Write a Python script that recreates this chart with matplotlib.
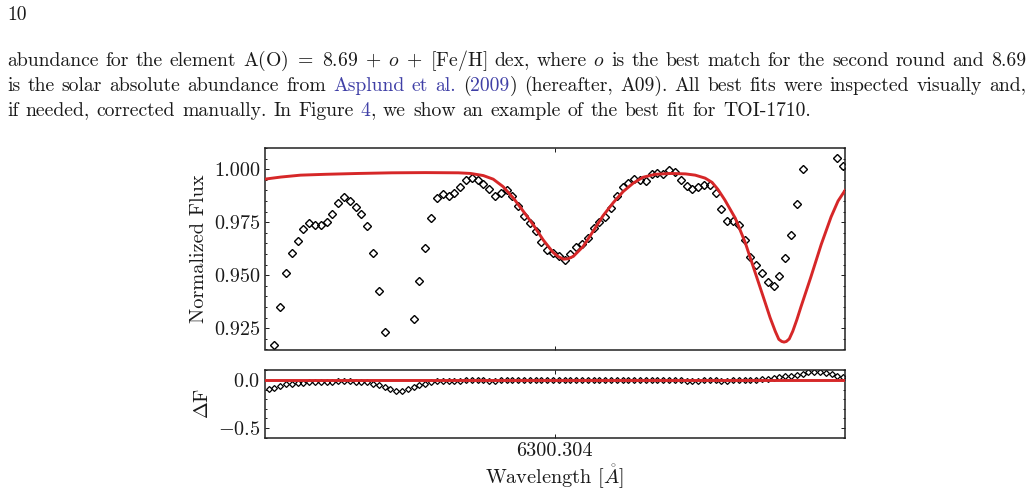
import matplotlib.pyplot as plt
from matplotlib.ticker import MultipleLocator

# page and figure size in pixels (saved at dpi=100)
W, H = 1033, 495

plt.rcParams["font.family"] = "serif"
plt.rcParams["font.serif"] = ["cmr10"]
plt.rcParams["mathtext.fontset"] = "cm"
plt.rcParams["axes.formatter.use_mathtext"] = True

INK = "#1a1a1a"
LINK = "#3f3fa6"
RED = "#d62728"

# observed spectrum (wavelength in Angstrom, normalized flux, residual data - model)
wave = [
    6299.811, 6299.821, 6299.831, 6299.841, 6299.851, 6299.861, 6299.871, 6299.881, 6299.891, 6299.901,
    6299.911, 6299.921, 6299.931, 6299.941, 6299.951, 6299.961, 6299.971, 6299.981, 6299.991, 6300.001,
    6300.011, 6300.021, 6300.031, 6300.041, 6300.051, 6300.061, 6300.071, 6300.081, 6300.091, 6300.101,
    6300.111, 6300.121, 6300.131, 6300.141, 6300.151, 6300.161, 6300.171, 6300.181, 6300.191, 6300.201,
    6300.211, 6300.221, 6300.231, 6300.241, 6300.251, 6300.261, 6300.271, 6300.281, 6300.291, 6300.301,
    6300.311, 6300.321, 6300.331, 6300.341, 6300.351, 6300.361, 6300.371, 6300.381, 6300.391, 6300.401,
    6300.411, 6300.421, 6300.431, 6300.441, 6300.451, 6300.461, 6300.471, 6300.481, 6300.491, 6300.501,
    6300.511, 6300.521, 6300.531, 6300.541, 6300.551, 6300.561, 6300.571, 6300.581, 6300.591, 6300.601,
    6300.611, 6300.621, 6300.631, 6300.641, 6300.651, 6300.661, 6300.671, 6300.681, 6300.691, 6300.701,
    6300.711, 6300.721, 6300.731, 6300.741, 6300.751, 6300.761, 6300.771, 6300.781, 6300.791, 6300.801,
]
flux = [
    0.9020, 0.9171, 0.9351, 0.9512, 0.9606, 0.9662, 0.9717, 0.9746, 0.9739, 0.9736,
    0.9750, 0.9789, 0.9840, 0.9868, 0.9848, 0.9820, 0.9788, 0.9730, 0.9604, 0.9427,
    0.9232, 0.9010, 0.8860, 0.8830, 0.9000, 0.9295, 0.9474, 0.9629, 0.9769, 0.9862,
    0.9884, 0.9876, 0.9887, 0.9915, 0.9950, 0.9959, 0.9947, 0.9931, 0.9905, 0.9876,
    0.9890, 0.9904, 0.9875, 0.9828, 0.9780, 0.9745, 0.9710, 0.9658, 0.9621, 0.9605,
    0.9591, 0.9571, 0.9598, 0.9631, 0.9647, 0.9674, 0.9725, 0.9752, 0.9775, 0.9815,
    0.9873, 0.9917, 0.9933, 0.9953, 0.9948, 0.9945, 0.9976, 0.9983, 0.9976, 0.9995,
    0.9986, 0.9951, 0.9920, 0.9909, 0.9914, 0.9925, 0.9925, 0.9890, 0.9812, 0.9755,
    0.9755, 0.9738, 0.9666, 0.9587, 0.9548, 0.9509, 0.9466, 0.9449, 0.9497, 0.9582,
    0.9689, 0.9838, 1.0000, 1.0240, 1.0410, 1.0480, 1.0460, 1.0370, 1.0055, 1.0016,
]
resid = [
    -0.094, -0.079, -0.061, -0.045, -0.036, -0.031, -0.026, -0.023, -0.024, -0.024,
    -0.023, -0.019, -0.014, -0.011, -0.013, -0.016, -0.019, -0.025, -0.038, -0.056,
    -0.075, -0.097, -0.112, -0.115, -0.098, -0.069, -0.051, -0.036, -0.022, -0.012,
    -0.010, -0.011, -0.010, -0.007, -0.003, -0.002, -0.003, -0.004, -0.006, -0.007,
    -0.004, 0.000, 0.001, 0.000, -0.002, -0.002, -0.001, -0.003, -0.002, -0.001,
    0.000, 0.000, 0.002, 0.003, 0.002, 0.000, 0.001, 0.000, -0.002, -0.002,
    0.001, 0.002, 0.002, 0.002, -0.001, -0.002, 0.000, 0.001, 0.000, 0.002,
    0.001, -0.003, -0.006, -0.007, -0.005, -0.004, -0.002, -0.003, -0.007, -0.008,
    -0.003, 0.001, 0.001, 0.001, 0.005, 0.009, 0.013, 0.018, 0.029, 0.040,
    0.047, 0.055, 0.064, 0.080, 0.087, 0.085, 0.075, 0.060, 0.045, 0.032,
]

# best-fit synthetic spectrum
model_wave = [
    6299.804, 6299.832, 6299.866, 6299.909, 6299.966, 6300.023, 6300.081, 6300.138, 6300.159, 6300.181,
    6300.198, 6300.215, 6300.233, 6300.250, 6300.267, 6300.284, 6300.301, 6300.310, 6300.319, 6300.327,
    6300.336, 6300.353, 6300.370, 6300.387, 6300.405, 6300.422, 6300.439, 6300.456, 6300.477, 6300.503,
    6300.529, 6300.546, 6300.563, 6300.575, 6300.585, 6300.597, 6300.615, 6300.632, 6300.649, 6300.666,
    6300.675, 6300.684, 6300.690, 6300.695, 6300.699, 6300.703, 6300.708, 6300.714, 6300.721, 6300.728,
    6300.745, 6300.763, 6300.780, 6300.792, 6300.804,
]
model_flux = [
    0.9953, 0.9963, 0.9972, 0.9976, 0.9980, 0.9983, 0.9984, 0.9983, 0.9980, 0.9970,
    0.9953, 0.9918, 0.9863, 0.9801, 0.9738, 0.9667, 0.9608, 0.9588, 0.9576, 0.9578,
    0.9589, 0.9636, 0.9707, 0.9780, 0.9843, 0.9895, 0.9934, 0.9962, 0.9976, 0.9980,
    0.9978, 0.9972, 0.9958, 0.9938, 0.9905, 0.9855, 0.9769, 0.9655, 0.9515, 0.9375,
    0.9300, 0.9235, 0.9198, 0.9188, 0.9185, 0.9188, 0.9200, 0.9236, 0.9290, 0.9350,
    0.9490, 0.9645, 0.9775, 0.9850, 0.9900,
]

line_centre = 6300.304
x_range = (6299.804, 6300.804)
flux_ticks = [0.925, 0.950, 0.975, 1.000]
flux_labels = ["0.925", "0.950", "0.975", "1.000"]
resid_ticks = [-0.5, 0.0]
resid_labels = [r"$-0.5$", r"$0.0$"]

FS_AX = 14.6
FS_TEXT = 14.2

fig = plt.figure(figsize=(W / 100, H / 100), dpi=100)

# --- page text around the figure ---
def words(s):
    return [[(w, INK)] for w in s.split()]

line1 = (words("abundance for the element")
         + [[(r"$\mathrm{A(O)}\ =\ 8.69\;+\;o\;+\;[\mathrm{Fe/H}]$", INK)]]
         + words("dex, where") + [[(r"$o$", INK)]]
         + words("is the best match for the second round and 8.69"))
line2 = (words("is the solar absolute abundance from")
         + [[("Asplund", LINK)], [("et", LINK)], [("al.", LINK)],
            [("(", INK), ("2009", LINK), (")", INK)]]
         + words("(hereafter, A09). All best fits were inspected visually and,"))
line3 = (words("if needed, corrected manually. In Figure")
         + [[("4", LINK), (",", INK)]]
         + words("we show an example of the best fit for TOI-1710."))

renderer = fig.canvas.get_renderer()
LEFT, RIGHT, SPACE = 7, 1026, 7.0


def set_line(tokens, base, justify):
    arts, widths = [], []
    for tok in tokens:
        pieces, w = [], 0
        for s, c in tok:
            t = fig.text(0, 1 - base / H, s, color=c, fontsize=FS_TEXT,
                         va="baseline", ha="left")
            pw = t.get_window_extent(renderer).width
            pieces.append((t, pw))
            w += pw
        arts.append(pieces)
        widths.append(w)
    gap = (RIGHT - LEFT - sum(widths)) / (len(tokens) - 1) if justify else SPACE
    x = LEFT
    for pieces, w in zip(arts, widths):
        px = x
        for t, pw in pieces:
            t.set_x(px / W)
            px += pw
        x += w + gap


fig.text(LEFT / W, 1 - 20 / H, "10", color=INK, fontsize=FS_TEXT, va="baseline")
set_line(line1, 66, True)
set_line(line2, 91, True)
set_line(line3, 116, False)

# --- the two panels ---
ax1 = fig.add_axes([264.5 / W, 1 - 349.5 / H, 580.5 / W, 201.5 / H])
ax2 = fig.add_axes([264.5 / W, 1 - 437.5 / H, 580.5 / W, 67.5 / H], sharex=ax1)

ax1.plot(wave, flux, ls="none", marker="D", ms=4.2, mfc="none", mec="black", mew=1.0, zorder=2)
ax1.plot(model_wave, model_flux, color=RED, lw=2.1, zorder=3)

ax2.plot(wave, resid, ls="none", marker="D", ms=3.0, mfc="none", mec="black", mew=0.9, zorder=2)
ax2.axhline(0.0, color=RED, lw=2.1, zorder=3)

ax1.set_xlim(*x_range)
ax1.set_ylim(0.915, 1.010)
ax2.set_ylim(-0.6, 0.105)

ax1.set_yticks(flux_ticks, labels=flux_labels)
ax1.yaxis.set_minor_locator(MultipleLocator(0.005))
ax2.set_yticks(resid_ticks, labels=resid_labels)
ax2.yaxis.set_minor_locator(MultipleLocator(0.1))
ax2.set_xticks([line_centre], labels=["6300.304"])
ax1.tick_params(labelbottom=False)

for ax in (ax1, ax2):
    ax.tick_params(which="both", direction="in", top=True, right=True,
                   width=0.7, labelsize=FS_AX, colors=INK, pad=3)
    ax.tick_params(which="major", length=2.6)
    ax.tick_params(which="minor", length=1.5)
    for sp in ax.spines.values():
        sp.set_linewidth(1.1)
        sp.set_color("#222222")

ax1.set_ylabel("Normalized Flux", fontsize=FS_AX, color=INK)
ax2.set_ylabel(r"$\Delta$F", fontsize=FS_AX, color=INK)
ax1.yaxis.set_label_coords(-0.097, 0.5)
ax2.yaxis.set_label_coords(-0.090, 0.5)
ax2.set_xlabel(r"Wavelength [$\mathring{A}$]", fontsize=FS_AX, color=INK, labelpad=2)

fig.savefig("out.png", dpi=100, facecolor="white")
plt.close(fig)
